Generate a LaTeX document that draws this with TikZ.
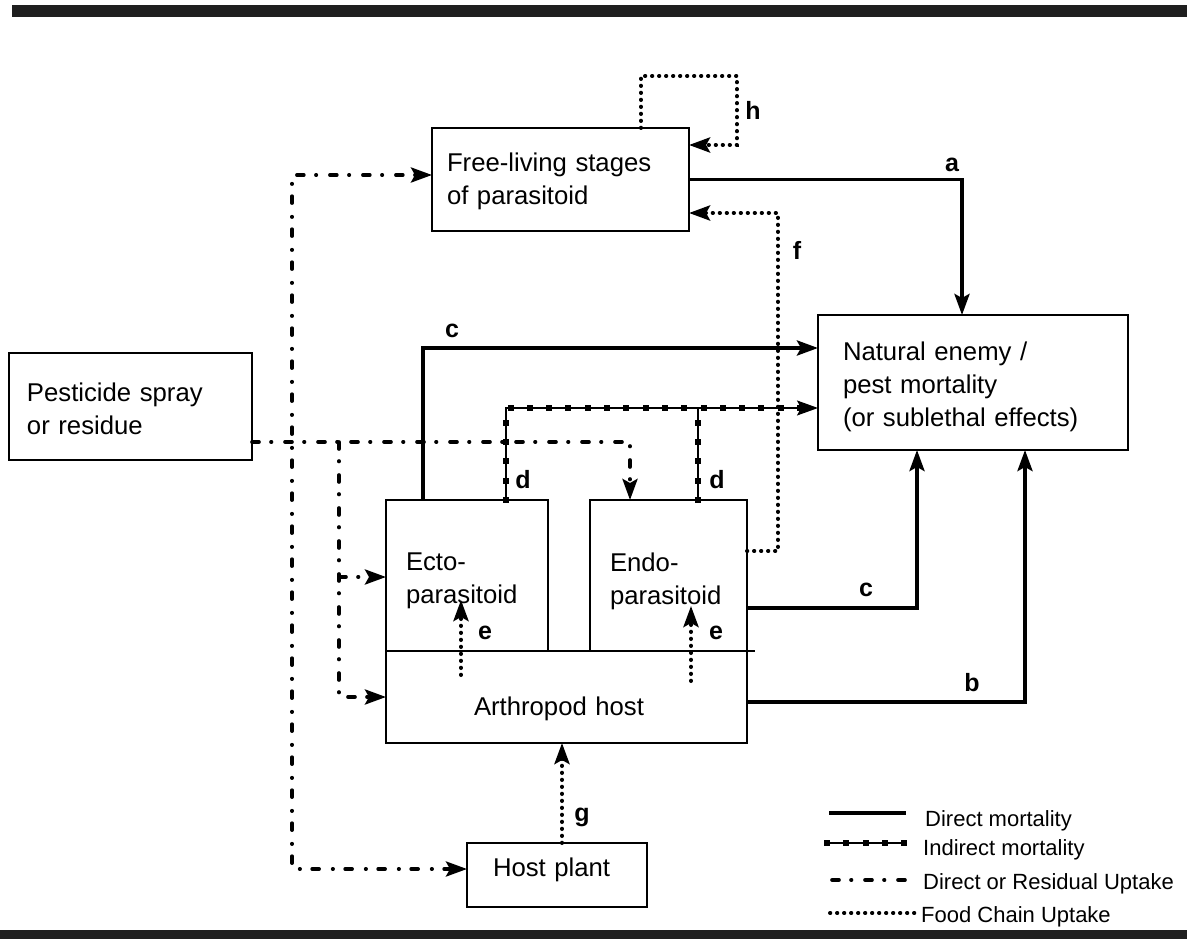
\documentclass[tikz,border=0pt]{standalone}
\usepackage{fontspec}
\setmainfont{Liberation Sans}
\usetikzlibrary{arrows.meta,calc,decorations.markings}
\newcommand{\mybt}[2]{\raisebox{#1}[\height][\depth]{\begin{tabular}{@{}l@{}}#2\end{tabular}}}
\begin{document}
\begin{tikzpicture}[x=1pt,y=-1pt,
  box/.style={draw, line width=1.7pt, outer sep=0pt, align=left, font=\fontsize{25.7}{33}\selectfont},
  direct/.style={line width=3.8pt},
  tip/.style={-{Stealth[length=21pt,width=15pt,inset=4pt]}},
  tipboth/.style={{Stealth[length=21pt,width=15pt,inset=4pt]}-{Stealth[length=21pt,width=15pt,inset=4pt]}},
  ddot/.style={line width=3.6pt, line cap=round, dash pattern=on 7pt off 12pt on 0.5pt off 13.5pt},
  fdot/.style={line width=4pt, line cap=round, dash pattern=on 0.3pt off 6.7pt},
  indirect/.style={line width=1.6pt, decoration={markings, mark=between positions 0 and 1 step 19.3pt with {\fill (-3pt,-3pt) rectangle (3pt,3pt);}}, postaction={decorate}},
  lab/.style={font=\fontsize{25}{30}\selectfont\bfseries, inner sep=0pt},
  legtext/.style={font=\fontsize{22}{26}\selectfont, anchor=base west, inner sep=0pt}]
\useasboundingbox (0,0) rectangle (1187,939);
% bars
\fill[black!88] (12,5) rectangle (1187,17);
\fill[black!88] (0,930) rectangle (1187,939);
% boxes
\node[box, minimum width=257pt, minimum height=103pt, text width=227pt, inner xsep=15pt] (fl) at (560.5,179.5) {\mybt{-2pt}{Free-living stages\\of parasitoid}};
\node[box, minimum width=310pt, minimum height=135pt, text width=260pt, inner xsep=25pt] (ne) at (973,382.5) {\mybt{-4pt}{Natural enemy /\\pest mortality\\(or sublethal effects)}};
\node[box, minimum width=243pt, minimum height=107pt, text width=207pt, inner xsep=18pt] (pest) at (130.5,406.5) {\mybt{-5pt}{Pesticide spray\\or residue}};
\node[box, minimum width=162pt, minimum height=151pt, text width=122pt, inner xsep=20pt] (ecto) at (467,575.5) {\mybt{-5pt}{Ecto-\\parasitoid}};
\node[box, minimum width=157pt, minimum height=151pt, text width=117pt, inner xsep=20pt] (endo) at (668.5,575.5) {\mybt{-6pt}{Endo-\\parasitoid}};
\node[box, minimum width=361pt, minimum height=92pt, text width=185pt, inner xsep=88pt] (host) at (566.5,697) {\raisebox{-12pt}[\height][\depth]{Arthropod host}};
\node[box, minimum width=180pt, minimum height=64pt, text width=128pt, inner xsep=26pt] (plant) at (557,875) {\raisebox{5pt}[\height][\depth]{Host plant}};
\draw[line width=1.7pt] (host.north east) -- ++(8,0);
% direct mortality
\draw[direct,tip] (fl.east) -| ($(ne.north west)+(144,0)$);
\draw[direct,tip] ($(ecto.north west)+(37,0)$) |- (ne.west |- 0,348);
\draw[direct,tip] (endo.east |- 0,608) -| ($(ne.south west)+(99,0)$);
\draw[direct,tip] (host.east |- 0,702) -| ($(ne.south west)+(207,0)$);
% indirect mortality
\draw[indirect,tip] ($(ecto.north west)+(120,0)$) |- (ne.west |- 0,408);
\draw[indirect] ($(endo.north west)+(108,0)$) -- ($(endo.north west)+(108,-92)$);
% food chain
\draw[fdot,tip] ($(host.north west)+(75,24)$) -- ($(ecto.south west)+(75,-51)$);
\draw[fdot,tip] ($(host.north west)+(305,30)$) -- ($(endo.south west)+(101,-45)$);
\draw[fdot,tip] (endo.east |- 0,551) -| ($(fl.east |- 0,213)+(89,0)$) -- (fl.east |- 0,213);
\draw[fdot,tip] ($(plant.north west)+(95,0)$) -- ($(host.south west)+(176,0)$);
\draw[fdot,tip] ($(fl.north west)+(209,0)$) -- ++(0,-52) -| ($(fl.north east)+(48,17)$) -- ($(fl.north east)+(0,17)$);
% direct or residual uptake
\coordinate (sp2) at (339,442);
\coordinate (sp2b) at (339,577);
\coordinate (sp1) at (292,175);
\draw[ddot,tip] (pest.east |- 0,442) -| ($(endo.north west)+(40,0)$);
\draw[ddot,tipboth] (plant.west |- 0,869) -| (sp1) -- (fl.west |- 0,175);
\draw[ddot,tip] (sp2) |- (host.west |- 0,697);
\draw[ddot,tip] (sp2b) -- (ecto.west |- 0,577);
% labels
\node[lab] (la) at (952,165) {a};
\node[lab] (lb) at (972,683) {b};
\node[lab] (lc1) at (452,331) {c};
\node[lab] (lc2) at (866,590) {c};
\node[lab] (ld1) at (523,480) {d};
\node[lab] (ld2) at (717,480) {d};
\node[lab] (le1) at (485,633) {e};
\node[lab] (le2) at (716,633) {e};
\node[lab] (lf) at (797,250) {f};
\node[lab] (lg) at (582,817) {g};
\node[lab] (lh) at (753,110) {h};
% legend
\coordinate (k1a) at (829,813); \coordinate (k1b) at (906,813);
\coordinate (k2a) at (827,843); \coordinate (k2b) at (906,843);
\coordinate (k3a) at (832,880); \coordinate (k3b) at (915,880);
\coordinate (k4a) at (830,913); \coordinate (k4b) at (915,913);
\draw[direct] (k1a) -- (k1b);
\draw[indirect] (k2a) -- (k2b);
\draw[ddot] (k3a) -- (k3b);
\draw[fdot] (k4a) -- (k4b);
\node[legtext] (t1) at (925,826) {Direct mortality};
\node[legtext] (t2) at (923,855) {Indirect mortality};
\node[legtext] (t3) at (923,889) {Direct or Residual Uptake};
\node[legtext] (t4) at (921,922) {Food Chain Uptake};
\end{tikzpicture}
\end{document}
